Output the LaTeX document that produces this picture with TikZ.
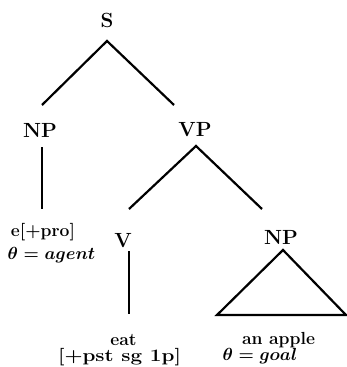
\RequirePackage{fix-cm}
\documentclass[tikz,border=0pt]{standalone}
\usepackage{fontspec}
\usepackage{graphicx}
\usetikzlibrary{calc}
\newcommand\catfont{\fontsize{20.5}{24}\selectfont\bfseries\addfontfeatures{FakeBold=1}}
\newcommand\leaffont{\fontsize{17.5}{20}\selectfont\bfseries\addfontfeatures{FakeBold=1}\boldmath}
\tikzset{
  cat/.style={font=\catfont, inner sep=0pt},
  leaf/.style={font=\leaffont, inner sep=0pt, anchor=base},
  branch/.style={line width=2.2pt, line join=miter}
}
\begin{document}
\begin{tikzpicture}[x=1pt, y=-1pt]
  \useasboundingbox (0,0) rectangle (347,367);
  % category labels
  \node[cat] (S)   at (107,20)  {S};
  \node[cat] (NP1) at (40,130)  {NP};
  \node[cat] (VP)  at (195,130) {VP};
  \node[cat] (V)   at (123,241) {V};
  \node[cat] (NP2) at (281,237) {NP};
  % terminal strings and features
  \node[leaf] (pro)   at (43,236)    {e[+pro]};
  \node[leaf] (agent) at (51.5,259.5){$\theta = agent$};
  \node[leaf] (eat)   at (123.5,345) {eat};
  \node[leaf] (feat)  at (119.5,361) {\scalebox{1.18}[1]{[+pst sg 1p]}};
  \node[leaf] (apple) at (278.5,344) {an apple};
  \node[leaf] (goal)  at (260,360)   {$\theta = goal$};
  % branches
  \draw[branch] ($(NP1)+(2,-25)$) -- ($(S)+(0,21)$) -- ($(VP)+(-21,-25)$);
  \draw[branch] ($(NP1)+(2,17)$) -- ($(pro.base)+(-1,-27)$);
  \draw[branch] ($(V)+(6,-32)$) -- ($(VP)+(1,16)$) -- ($(NP2)+(-19,-28)$);
  \draw[branch] ($(V)+(6,10)$) -- ($(eat.base)+(5.5,-31)$);
  % roof over the object NP
  \draw[branch] ($(NP2)+(2,13)$) -- ($(apple.base)+(-61.5,-29)$)
    -- ($(apple.base)+(67.5,-29)$) -- cycle;
\end{tikzpicture}
\end{document}
